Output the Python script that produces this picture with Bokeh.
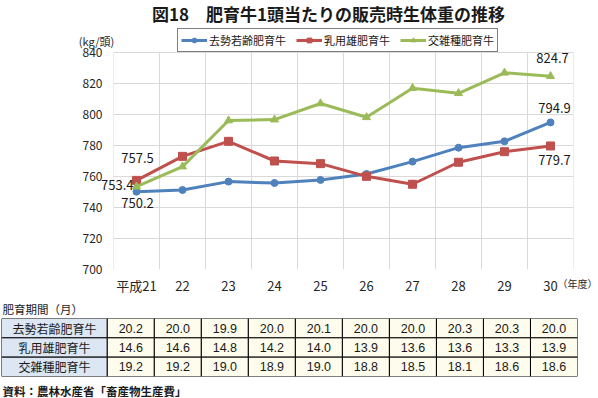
from bokeh.plotting import figure
from bokeh.models import Range1d, FixedTicker, Legend, LegendItem
from bokeh.layouts import column
from bokeh.embed import file_html
from bokeh.resources import INLINE
from bokeh.core.properties import value

# ---------------- data ----------------
years = ["平成21", "22", "23", "24", "25", "26", "27", "28", "29", "30"]
series_names = ["去勢若齢肥育牛", "乳用雄肥育牛", "交雑種肥育牛"]
kyosei = [750.2, 751.3, 756.7, 755.8, 757.8, 761.6, 769.6, 778.6, 782.7, 794.9]
nyuyo = [757.5, 773.0, 782.7, 770.0, 768.3, 760.1, 755.0, 769.2, 776.0, 779.7]
kozatsu = [753.4, 766.4, 796.1, 796.7, 807.1, 798.2, 817.0, 813.7, 826.9, 824.7]
y_ticks = [700, 720, 740, 760, 780, 800, 820, 840]

period_kyosei = [20.2, 20.0, 19.9, 20.0, 20.1, 20.0, 20.0, 20.3, 20.3, 20.0]
period_nyuyo = [14.6, 14.6, 14.8, 14.2, 14.0, 13.9, 13.6, 13.6, 13.3, 13.9]
period_kozatsu = [19.2, 19.2, 19.0, 18.9, 19.0, 18.8, 18.5, 18.1, 18.6, 18.6]

title_text = "図18　肥育牛1頭当たりの販売時生体重の推移"
y_unit = "(kg/頭)"
x_unit = "（年度）"
table_title = "肥育期間（月）"
source_note = "資料：農林水産省「畜産物生産費」"

# ---------------- styles ----------------
JP = "Noto Sans CJK JP"
colors = ["#4F81BD", "#C0504D", "#9BBB59"]
markers = ["circle", "square", "triangle"]
msizes = [7, 8, 8]
grid_col = "#D9D9D9"
# (first label offset x, y, align), (last label offset x, y, align)   (y offset: + is down)
label_styles = [
    ((1, 11, "center"), (4, -14, "center")),
    ((1, -22, "center"), (4, 14, "center")),
    ((-3, -2, "right"), (2, -18, "center")),
]

n = len(years)
xs = [i + 0.5 for i in range(n)]

# plot-area geometry (pixels): the frame's top 52 px hold the title and the legend
FRAME_H = 269
AREA_H = 217
HEAD_H = FRAME_H - AREA_H
y_lo, y_hi = y_ticks[0], y_ticks[-1]
y_top = y_hi + (y_hi - y_lo) * HEAD_H / AREA_H


def free_text(fig, x, y, txt, dx=0, dy=0, align="center", size="12px", bold=False,
              font=JP, color="#1a1a1a"):
    fig.text(x=[x], y=[y], text=[txt], x_offset=dx, y_offset=dy, text_align=align,
             text_baseline="middle", text_font=value(font), text_font_size=size,
             text_font_style="bold" if bold else "normal", text_color=color,
             level="overlay")


def no_frame_align(fig):
    if "frame_align" in fig.properties():
        fig.frame_align = False


# ---------------- chart ----------------
p = figure(width=598, height=300, x_range=Range1d(0, n), y_range=Range1d(y_lo, y_top),
           output_backend="svg", toolbar_location=None,
           min_border_left=113, min_border_right=25, min_border_top=0, min_border_bottom=31)
no_frame_align(p)
p.outline_line_color = None
p.background_fill_color = "white"
p.border_fill_color = "white"

p.xaxis.ticker = FixedTicker(ticks=xs)
p.xaxis.major_label_overrides = {x: lab for x, lab in zip(xs, years)}
p.yaxis.ticker = FixedTicker(ticks=y_ticks)
for ax in (p.xaxis[0], p.yaxis[0]):
    ax.axis_line_color = None
    ax.major_tick_line_color = None
    ax.minor_tick_line_color = None
    ax.major_tick_out = 0
    ax.major_label_text_font = JP
    ax.major_label_text_color = "#262626"
p.xaxis.major_label_text_font_size = "13px"
p.xaxis.major_label_standoff = 6
p.yaxis.major_label_text_font_size = "12px"
p.yaxis.major_label_standoff = 11

p.xgrid.visible = False
p.ygrid.ticker = FixedTicker(ticks=y_ticks)
p.ygrid.grid_line_color = grid_col
# vertical grid lines on the category boundaries (also the plot-area side borders)
bounds = list(range(0, n + 1))
p.segment(x0=bounds, y0=[y_lo] * len(bounds), x1=bounds, y1=[y_hi] * len(bounds),
          line_color=grid_col, line_width=1)

all_series = [kyosei, nyuyo, kozatsu]
items = []
for vals, name, c, m, s in zip(all_series, series_names, colors, markers, msizes):
    r1 = p.line(xs, vals, line_width=3, color=c)
    r2 = p.scatter(xs, vals, marker=m, size=s, color=c)
    items.append(LegendItem(label=name, renderers=[r1, r2]))

for vals, (st0, st1) in zip(all_series, label_styles):
    for idx, (dx, dy, al) in ((0, st0), (n - 1, st1)):
        free_text(p, xs[idx], vals[idx], "%.1f" % vals[idx], dx, dy, al, "13px")

leg = Legend(items=items, location=(64, AREA_H), orientation="horizontal",
             glyph_width=26, glyph_height=12, label_height=12, label_standoff=2,
             spacing=10, padding=3, margin=0,
             label_text_font=JP, label_text_font_size="11px", label_text_color="#1a1a1a",
             border_line_color="black", border_line_width=1)
p.add_layout(leg)

free_text(p, 0, y_hi, title_text, dx=215, dy=-39, size="17px", bold=True)
free_text(p, 0, y_hi, y_unit, dx=-17, dy=-12, size="11px", color="#262626")
free_text(p, n, y_lo, x_unit, dx=24, dy=14, align="right", size="10px", color="#262626")

# ---------------- table ----------------
label_w = 2.25
t = figure(width=598, height=98, x_range=Range1d(-label_w, n), y_range=Range1d(0, 3),
           output_backend="svg", toolbar_location=None,
           min_border_left=1, min_border_right=21, min_border_top=18, min_border_bottom=22)
no_frame_align(t)
t.axis.visible = False
t.grid.visible = False
t.outline_line_color = None
t.background_fill_color = "white"
t.border_fill_color = "white"

rows = [period_kyosei, period_nyuyo, period_kozatsu]
nr = len(rows)
tops = [nr - r for r in range(nr)]
bottoms = [nr - r - 1 for r in range(nr)]
t.quad(left=[-label_w] * nr, right=[0] * nr, bottom=bottoms, top=tops,
       fill_color="#DDE7F3", line_color="black", line_width=1)
t.text(x=[-label_w / 2] * nr, y=[b + 0.5 for b in bottoms], text=series_names,
       text_align="center", text_baseline="middle", text_font=value(JP),
       text_font_size="12px", text_color="#1a1a1a")
cl, cr, cb, ct, cx, cy, ctext = [], [], [], [], [], [], []
for r, vals in enumerate(rows):
    for i, v in enumerate(vals):
        cl.append(i); cr.append(i + 1); cb.append(bottoms[r]); ct.append(tops[r])
        cx.append(i + 0.5); cy.append(bottoms[r] + 0.5); ctext.append("%.1f" % v)
t.quad(left=cl, right=cr, bottom=cb, top=ct, fill_color="#FEFCEC", line_color="black", line_width=1)
t.text(x=cx, y=cy, text=ctext, text_align="center", text_baseline="middle",
       text_font=value("Liberation Sans"), text_font_size="12.5px", text_color="#1a1a1a")

free_text(t, -label_w, nr, table_title, dx=1, dy=-10, align="left", size="11.5px")
free_text(t, -label_w, 0, source_note, dx=1, dy=14, align="left", size="11.5px", bold=True)

layout = column(p, t, spacing=0)
open("out.html", "w").write(file_html(layout, INLINE))
